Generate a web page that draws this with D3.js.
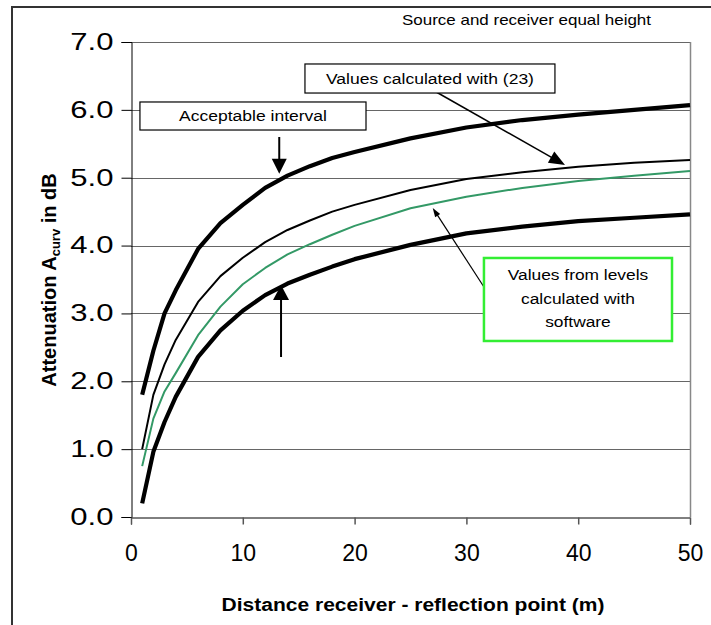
<!DOCTYPE html>
<html><head><meta charset="utf-8">
<script src="https://cdn.jsdelivr.net/npm/d3@7"></script>
<style>
html,body{margin:0;padding:0;background:#fff;}
svg{display:block;font-family:"Liberation Sans",Arial,sans-serif;}
</style></head>
<body>
<svg id="chart" width="711" height="625"></svg>
<script>
// ---- data ----
const distances = [1,2,3,4,6,8,10,12,14,16,18,20,25,30,35,40,45,50];
const upperBound = [1.80,2.45,3.00,3.34,3.95,4.33,4.60,4.85,5.03,5.17,5.29,5.38,5.58,5.74,5.85,5.93,6.00,6.07];
const calculated23 = [1.00,1.80,2.25,2.61,3.17,3.55,3.82,4.05,4.23,4.37,4.50,4.60,4.82,4.98,5.08,5.16,5.22,5.26];
const softwareValues = [0.75,1.45,1.85,2.12,2.68,3.10,3.43,3.67,3.87,4.02,4.16,4.29,4.55,4.72,4.85,4.95,5.03,5.10];
const lowerBound = [0.20,0.96,1.40,1.77,2.36,2.75,3.04,3.27,3.44,3.57,3.69,3.80,4.01,4.18,4.28,4.36,4.41,4.46];
const yTicks = [0,1,2,3,4,5,6,7];
const xTicks = [0,10,20,30,40,50];
const titleText = "Source and receiver equal height";
const xTitle = "Distance receiver - reflection point (m)";

const svg = d3.select("#chart");
const x = d3.scaleLinear().domain([0,50]).range([131,690]);
const y = d3.scaleLinear().domain([0,7]).range([517,42]);

// stretch text horizontally by a factor
function stretch(sel, f){
  sel.each(function(){
    const L = this.getComputedTextLength();
    d3.select(this).attr("textLength", L*f).attr("lengthAdjust","spacingAndGlyphs");
  });
}

// outer frame
svg.append("path").attr("d","M12,625 V7 H711").attr("fill","none").attr("stroke","#333").attr("stroke-width",2);

// gridlines
svg.append("g").selectAll("line").data(yTicks.filter(d=>d>0)).join("line")
  .attr("x1",x(0)).attr("x2",x(50)).attr("y1",d=>Math.round(y(d))+0.5).attr("y2",d=>Math.round(y(d))+0.5)
  .attr("stroke","#666").attr("stroke-width",1);
// right border of plot
svg.append("line").attr("x1",Math.round(x(50))+0.5).attr("x2",Math.round(x(50))+0.5).attr("y1",y(7)).attr("y2",y(0))
  .attr("stroke","#888").attr("stroke-width",1.5);

// y axis
const yAxis = svg.append("g").attr("transform",`translate(${Math.round(x(0))+0.5},0)`)
  .call(d3.axisLeft(y).tickValues(yTicks).tickFormat(d3.format(".1f")).tickSize(10).tickPadding(8));
yAxis.select(".domain").attr("stroke","#000");
yAxis.selectAll(".tick line").attr("stroke","#000");
yAxis.selectAll("text").attr("font-size",23).attr("fill","#000").attr("font-family","Liberation Sans, Arial, sans-serif");
stretch(yAxis.selectAll("text"),1.35);

// x axis
const xAxis = svg.append("g").attr("transform",`translate(0,${Math.round(y(0))+0.5})`)
  .call(d3.axisBottom(x).tickValues(xTicks).tickFormat(d3.format("d")).tickSize(7).tickPadding(20));
xAxis.select(".domain").attr("stroke","#000");
xAxis.selectAll(".tick line").attr("stroke","#555").attr("stroke-width",1.5);
xAxis.selectAll("text").attr("font-size",23).attr("fill","#000").attr("font-family","Liberation Sans, Arial, sans-serif");

// lines
const line = d3.line().x((d,i)=>x(distances[i])).y(d=>y(d));
const series = [
  {v:lowerBound, c:"#000", w:4.2},
  {v:softwareValues, c:"#339966", w:2},
  {v:calculated23, c:"#000", w:2},
  {v:upperBound, c:"#000", w:4.2}
];
svg.append("g").selectAll("path").data(series).join("path")
  .attr("d",d=>line(d.v)).attr("fill","none").attr("stroke",d=>d.c).attr("stroke-width",d=>d.w)
  .attr("stroke-linejoin","round");

// arrow helper (data coords)
function arrow(x1,y1,x2,y2,hl,hw,sw){
  const X1=x(x1),Y1=y(y1),X2=x(x2),Y2=y(y2);
  const dx=X2-X1,dy=Y2-Y1,L=Math.hypot(dx,dy),ux=dx/L,uy=dy/L;
  const bx=X2-ux*hl,by=Y2-uy*hl;
  svg.append("line").attr("x1",X1).attr("y1",Y1).attr("x2",bx+ux*1).attr("y2",by+uy*1)
    .attr("stroke","#000").attr("stroke-width",sw);
  svg.append("path").attr("d",`M${X2},${Y2}L${bx-uy*hw/2},${by+ux*hw/2}L${bx+uy*hw/2},${by-ux*hw/2}Z`).attr("fill","#000");
}
function box(x1,y1,x2,y2,stroke,sw){
  return svg.append("rect").attr("x",x(x1)).attr("y",y(y1)).attr("width",x(x2)-x(x1)).attr("height",y(y2)-y(y1))
    .attr("fill","#fff").attr("stroke",stroke).attr("stroke-width",sw);
}

// title
const tt = svg.append("text").attr("x",651).attr("y",25).attr("text-anchor","end").attr("font-size",14.5).text(titleText);
stretch(tt,1.17);

// "Values calculated with (23)"
arrow(26.83,6.307,38.82,5.187,16,13,1.5);
box(15.56,6.676,37.92,6.248,"#000",1.2);
const t1 = svg.append("text").attr("x",x((15.56+37.92)/2)).attr("y",y(6.462)+5.5).attr("text-anchor","middle").attr("font-size",15.5).text("Values calculated with (23)");
stretch(t1,1.13);

// "Acceptable interval"
box(0.80,6.116,21.02,5.703,"#000",1.2);
const t2 = svg.append("text").attr("x",x((0.80+21.02)/2)).attr("y",y(5.91)+5.5).attr("text-anchor","middle").attr("font-size",15.5).text("Acceptable interval");
stretch(t2,1.13);
arrow(13.26,5.60,13.26,5.06,15,15,2);
arrow(13.42,2.358,13.42,3.42,15,16,2);

// green box
arrow(31.57,3.39,26.99,4.554,9,6,1.2);
box(31.57,3.817,48.39,2.594,"#33ee33",2.5);
const gl = ["Values from levels","calculated with","software"];
const t3 = svg.append("g").selectAll("text").data(gl).join("text")
  .attr("x",x((31.57+48.39)/2)).attr("y",(d,i)=>y(3.57)+i*23.5+5.5)
  .attr("text-anchor","middle").attr("font-size",15.5).text(d=>d);
stretch(t3,1.12);

// axis titles
const xt = svg.append("text").attr("x",413).attr("y",611).attr("text-anchor","middle").attr("font-size",17.5).attr("font-weight","bold").text(xTitle);
stretch(xt,1.2);
const yt = svg.append("text").attr("transform","translate(56,280) rotate(-90)").attr("text-anchor","middle")
  .attr("font-size",20).attr("font-weight","bold");
yt.append("tspan").text("Attenuation A");
yt.append("tspan").attr("font-size",13).attr("dy",4).text("curv");
yt.append("tspan").attr("dy",-4).text(" in dB");
</script>
</body></html>
